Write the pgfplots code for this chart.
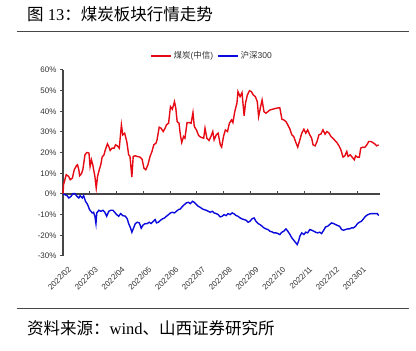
\documentclass[border=0pt]{standalone}
\usepackage{fontspec}
\setmainfont{Liberation Serif}
\setsansfont{Liberation Sans}
\newfontfamily\cjk{Noto Sans CJK SC}
\usepackage{pgfplots}
\pgfplotsset{compat=1.18}
\definecolor{cred}{RGB}{230,10,20}
\definecolor{cblue}{RGB}{10,10,220}
\definecolor{axgray}{RGB}{70,70,70}
\begin{document}
\begin{tikzpicture}[x=1pt,y=1pt]
\path (0,0) rectangle (416,351);
\draw[line width=1pt, axgray] (17,319.3) -- (409,319.3);
\draw[line width=1pt, axgray] (17,42) -- (409,42);
\node[anchor=west, inner sep=0, font=\fontsize{16.5}{18}\selectfont] at (27,337) {{\cjk 图} 13{\cjk ：煤炭板块行情走势}};
\node[anchor=west, inner sep=0, font=\fontsize{16.5}{18}\selectfont] at (27,22.5) {{\cjk 资料来源：}wind{\cjk 、山西证券研究所}};
\begin{axis}[
  at={(63pt,95pt)}, anchor=south west, scale only axis,
  width=317pt, height=186pt,
  xmin=0, xmax=11.83, ymin=-30, ymax=60,
  axis y line=left, axis x line=bottom,
  x axis line style={draw=none},
  y axis line style={-, draw=axgray, line width=1.2pt},
  xtick style={draw=none},
  ytick style={draw=axgray, line width=1pt},
  tick align=outside, major tick length=3pt,
  ytick={-30,-20,...,60},
  yticklabel={\pgfmathprintnumber{\tick}\%},
  /pgf/number format/assume math mode=true,
  yticklabel style={font=\sffamily\fontsize{8}{9}\selectfont, text=black!80},
  xtick={0,...,11},
  xticklabels={2022/02,2022/03,2022/04,2022/05,2022/06,2022/07,2022/08,2022/09,2022/10,2022/11,2022/12,2023/01},
  xticklabel style={rotate=45, anchor=east, font=\sffamily\fontsize{8}{9}\selectfont, text=black!80, yshift=-11pt, xshift=2pt},
  legend style={at={(0.47,1.075)}, anchor=center, draw=none, fill=none, legend columns=2,
    font=\sffamily\fontsize{8.5}{9}\selectfont, text=black!80,
    /tikz/every even column/.append style={column sep=2pt}, inner sep=0pt},
  legend image code/.code={\draw[#1] (0pt,0pt) -- (20pt,0pt);},
  clip=false,
]
\draw[axgray, line width=1.2pt] (axis cs:0,0) -- (axis cs:11.83,0);
\pgfplotsinvokeforeach{1,...,11}{\draw[axgray, line width=1pt] (axis cs:#1,0) -- (axis cs:#1,1.5);}
\addplot[cred, line width=1.4pt] coordinates {
(0,0) (0.02,4.50) (0.12,9.33) (0.21,8.52) (0.27,6.91) (0.35,7.72) (0.42,11.74) (0.50,13.67) (0.54,14.15) (0.59,11.74) (0.62,8.84) (0.69,9.81) (0.74,11.74) (0.82,18.97) (0.89,20.10) (0.97,19.78) (1.01,13.34) (1.06,16.56) (1.11,14.15) (1.19,8.52) (1.24,2.89) (1.29,8.52) (1.36,12.06) (1.41,14.15) (1.46,17.85) (1.53,18.97) (1.58,21.38) (1.66,24.28) (1.71,22.99) (1.76,21.06) (1.83,22.19) (1.91,22.19) (1.96,23.79) (2.03,23.31) (2.10,22.19) (2.18,33.44) (2.23,28.62) (2.30,29.42) (2.38,25.40) (2.45,18.97) (2.50,18.17) (2.57,8.20) (2.62,18.17) (2.70,18.49) (2.77,18.17) (2.87,17.85) (2.95,16.88) (3.02,12.54) (3.09,11.74) (3.17,14.15) (3.24,17.85) (3.32,20.58) (3.39,23.79) (3.47,24.60) (3.51,26.21) (3.59,32.31) (3.66,31.83) (3.74,30.22) (3.81,31.83) (3.86,33.44) (3.94,34.24) (4.01,42.28) (4.08,41.00) (4.16,44.69) (4.21,41.48) (4.26,35.05) (4.33,34.24) (4.38,28.62) (4.43,24.92) (4.50,27.81) (4.55,27.01) (4.63,34.57) (4.70,34.57) (4.78,34.24) (4.85,39.39) (4.90,32.64) (4.98,31.03) (5.05,28.62) (5.10,27.81) (5.17,27.33) (5.25,27.01) (5.30,31.83) (5.37,27.01) (5.45,25.88) (5.52,27.81) (5.59,30.22) (5.64,26.21) (5.72,28.62) (5.79,29.42) (5.87,23.79) (5.92,22.67) (5.99,27.81) (6.06,31.03) (6.14,30.22) (6.21,34.24) (6.29,35.85) (6.34,34.57) (6.41,39.87) (6.49,43.89) (6.53,49.52) (6.61,47.11) (6.68,49.03) (6.76,37.78) (6.81,43.89) (6.88,47.91) (6.96,50.00) (7.03,49.52) (7.10,47.91) (7.18,47.11) (7.25,44.69) (7.30,37.46) (7.38,42.60) (7.43,45.50) (7.50,39.87) (7.57,39.07) (7.65,39.87) (7.72,40.67) (7.82,41.00) (7.95,41.48) (8.09,41.80) (8.17,36.17) (8.24,35.85) (8.32,35.05) (8.39,33.44) (8.47,31.35) (8.54,28.62) (8.61,27.81) (8.69,24.92) (8.76,22.67) (8.84,26.21) (8.91,29.42) (8.99,31.35) (9.06,29.42) (9.13,31.03) (9.21,28.62) (9.28,27.01) (9.33,23.79) (9.41,23.31) (9.48,25.40) (9.55,28.62) (9.63,29.10) (9.70,31.03) (9.78,28.94) (9.85,30.22) (9.93,29.42) (10.00,27.81) (10.07,27.01) (10.15,25.88) (10.22,24.92) (10.30,23.31) (10.37,21.38) (10.45,17.85) (10.52,18.49) (10.59,20.58) (10.64,18.17) (10.72,18.97) (10.79,17.85) (10.87,16.56) (10.92,18.49) (10.99,17.85) (11.06,17.85) (11.11,22.19) (11.19,22.67) (11.26,22.51) (11.34,23.79) (11.41,25.40) (11.49,25.40) (11.56,24.92) (11.63,24.28) (11.71,23.31) (11.78,23.79)
};
\addlegendentry{{\cjk 煤炭}({\cjk 中信})}
\addplot[cblue, line width=1.4pt] coordinates {
(0,0) (0.07,-0.32) (0.15,-0.80) (0.22,-1.93) (0.30,-1.13) (0.37,0.16) (0.45,0.16) (0.52,-1.13) (0.59,-1.93) (0.64,-0.80) (0.72,-1.93) (0.77,-0.80) (0.84,-3.54) (0.92,-5.14) (0.99,-7.56) (1.04,-8.36) (1.09,-9.16) (1.14,-8.84) (1.19,-10.77) (1.23,-14.31) (1.26,-9.16) (1.34,-7.88) (1.41,-8.36) (1.49,-7.88) (1.56,-8.84) (1.63,-10.77) (1.71,-8.36) (1.78,-7.88) (1.86,-7.88) (1.93,-8.84) (2.00,-9.97) (2.08,-10.77) (2.15,-9.49) (2.23,-10.45) (2.33,-10.77) (2.40,-12.06) (2.45,-14.31) (2.52,-16.40) (2.57,-18.49) (2.62,-16.88) (2.70,-14.31) (2.77,-13.67) (2.85,-13.99) (2.92,-16.56) (2.99,-14.95) (3.07,-14.31) (3.14,-14.31) (3.22,-13.67) (3.29,-14.31) (3.37,-13.18) (3.44,-12.38) (3.49,-13.99) (3.56,-13.67) (3.64,-12.70) (3.71,-12.06) (3.79,-11.58) (3.86,-10.77) (3.94,-9.97) (4.01,-9.16) (4.08,-8.84) (4.16,-9.16) (4.23,-8.36) (4.31,-7.56) (4.38,-7.23) (4.46,-5.95) (4.53,-5.14) (4.60,-4.34) (4.68,-4.02) (4.75,-4.66) (4.83,-3.54) (4.90,-4.02) (4.98,-5.14) (5.05,-5.95) (5.12,-6.43) (5.20,-7.23) (5.27,-7.56) (5.35,-7.88) (5.42,-8.36) (5.50,-8.84) (5.57,-8.36) (5.64,-9.16) (5.72,-9.49) (5.79,-9.97) (5.87,-11.09) (5.94,-10.77) (6.01,-9.97) (6.09,-10.45) (6.16,-9.49) (6.24,-9.97) (6.31,-9.16) (6.39,-9.65) (6.46,-10.45) (6.53,-10.77) (6.61,-11.58) (6.68,-12.06) (6.76,-12.38) (6.83,-12.70) (6.91,-13.67) (6.98,-13.18) (7.05,-12.06) (7.13,-11.58) (7.20,-13.18) (7.28,-14.31) (7.35,-14.79) (7.43,-15.59) (7.50,-16.40) (7.57,-16.88) (7.65,-17.20) (7.72,-18.01) (7.80,-18.33) (7.87,-18.81) (7.95,-18.81) (8.02,-19.13) (8.09,-19.61) (8.17,-18.49) (8.24,-18.01) (8.32,-16.88) (8.39,-18.01) (8.47,-19.61) (8.54,-21.22) (8.61,-22.35) (8.69,-23.63) (8.74,-24.44) (8.79,-22.83) (8.84,-20.42) (8.91,-18.81) (8.99,-19.61) (9.06,-18.49) (9.13,-18.81) (9.21,-17.20) (9.28,-17.52) (9.36,-18.01) (9.43,-18.49) (9.50,-18.81) (9.58,-18.49) (9.65,-19.13) (9.73,-17.52) (9.80,-15.92) (9.88,-15.59) (9.95,-14.79) (10.02,-13.99) (10.10,-14.31) (10.17,-14.79) (10.25,-15.27) (10.32,-15.59) (10.40,-17.20) (10.47,-17.52) (10.54,-17.20) (10.62,-16.88) (10.69,-16.88) (10.77,-16.40) (10.84,-16.40) (10.92,-15.59) (10.99,-14.31) (11.06,-13.67) (11.14,-13.18) (11.21,-12.06) (11.29,-10.77) (11.36,-10.13) (11.44,-9.65) (11.51,-9.49) (11.58,-9.49) (11.66,-9.49) (11.73,-9.49) (11.78,-10.45)
};
\addlegendentry{{\cjk 沪深}300}
\end{axis}
\end{tikzpicture}
\end{document}
